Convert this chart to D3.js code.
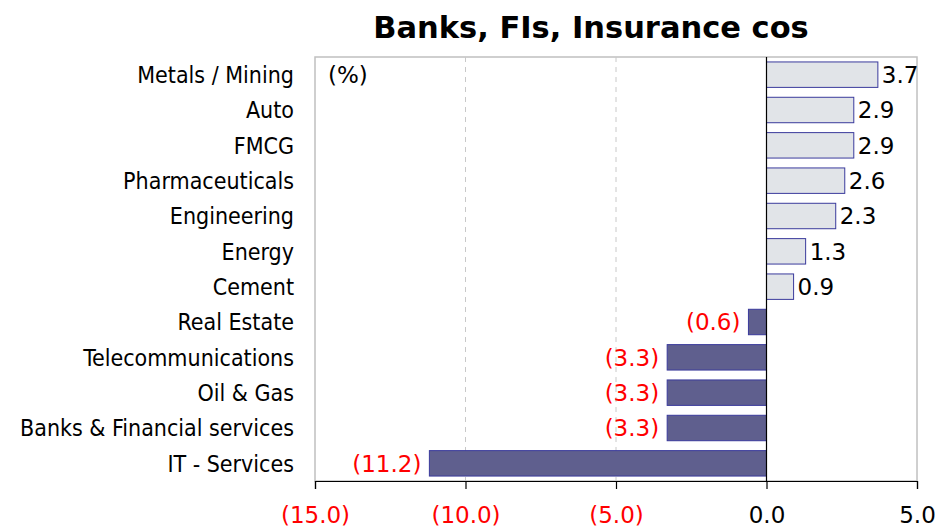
<!DOCTYPE html>
<html>
<head>
<meta charset="utf-8">
<script src="https://cdn.jsdelivr.net/npm/d3@7"></script>
<style>
  body { margin: 0; background: #fff; }
  text { font-family: "DejaVu Sans", sans-serif; }
</style>
</head>
<body>
<div id="chart"></div>
<script>
// chart data
var categories = ["Metals / Mining", "Auto", "FMCG", "Pharmaceuticals", "Engineering", "Energy",
  "Cement", "Real Estate", "Telecommunications", "Oil & Gas", "Banks & Financial services", "IT - Services"];
var values = [3.7, 2.9, 2.9, 2.6, 2.3, 1.3, 0.9, -0.6, -3.3, -3.3, -3.3, -11.2];
var xTicks = [-15, -10, -5, 0, 5];
var title = "Banks, FIs, Insurance cos";

var svgWidth = 951;
var svgHeight = 530;

var margin = { top: 57, right: 34, bottom: 49, left: 315 };
var width = svgWidth - margin.left - margin.right;
var height = svgHeight - margin.top - margin.bottom;

var fmt = function(v) {
  var s = Math.abs(v).toFixed(1);
  return v < 0 ? "(" + s + ")" : s;
};

var svg = d3.select("#chart")
  .append("svg")
  .attr("width", svgWidth)
  .attr("height", svgHeight);

var chartGroup = svg.append("g")
  .attr("transform", `translate(${margin.left}, ${margin.top})`);

var xScale = d3.scaleLinear()
  .domain([-15, 5])
  .range([0, width]);

var yScale = d3.scaleBand()
  .domain(categories)
  .range([0, height])
  .paddingInner(0.28)
  .paddingOuter(0.14);

// frame
chartGroup.append("rect")
  .attr("x", 0).attr("y", 0)
  .attr("width", width).attr("height", height)
  .attr("fill", "none")
  .attr("stroke", "#c0c0c0")
  .attr("stroke-width", 1.5);

// dashed gridlines
chartGroup.selectAll(".grid")
  .data(xTicks.filter(d => d > -15 && d < 0))
  .enter()
  .append("line")
  .attr("x1", d => xScale(d)).attr("x2", d => xScale(d))
  .attr("y1", 0).attr("y2", height)
  .attr("stroke", "#c8c8c8")
  .attr("stroke-dasharray", "5,5");

// bars
chartGroup.selectAll(".bar")
  .data(values)
  .enter()
  .append("rect")
  .attr("x", d => xScale(Math.min(0, d)))
  .attr("y", (d, i) => yScale(categories[i]))
  .attr("width", d => Math.abs(xScale(d) - xScale(0)))
  .attr("height", yScale.bandwidth())
  .attr("fill", d => d < 0 ? "#5f5f8e" : "#e1e4e8")
  .attr("stroke", "#3a3a9c")
  .attr("stroke-width", 1);

// zero line
chartGroup.append("line")
  .attr("x1", xScale(0)).attr("x2", xScale(0))
  .attr("y1", 0).attr("y2", height)
  .attr("stroke", "#000")
  .attr("stroke-width", 1.2);

// value labels
chartGroup.selectAll(".val")
  .data(values)
  .enter()
  .append("text")
  .attr("x", d => d < 0 ? xScale(d) - 8 : xScale(d) + 4)
  .attr("y", (d, i) => yScale(categories[i]) + yScale.bandwidth() / 2)
  .attr("dy", "0.36em")
  .attr("text-anchor", d => d < 0 ? "end" : "start")
  .attr("font-size", "23px")
  .attr("fill", d => d < 0 ? "#ff0000" : "#000")
  .text(fmt);

// category labels
chartGroup.selectAll(".cat")
  .data(categories)
  .enter()
  .append("text")
  .attr("x", -21)
  .attr("y", d => yScale(d) + yScale.bandwidth() / 2)
  .attr("dy", "0.36em")
  .attr("text-anchor", "end")
  .style("font-family", "'DejaVu Sans Condensed', 'DejaVu Sans', sans-serif")
  .attr("font-size", "23px")
  .attr("fill", "#000")
  .text(d => d);

// bottom axis
var bottomAxis = d3.axisBottom(xScale)
  .tickValues(xTicks)
  .tickSize(8)
  .tickFormat(fmt);

var axisG = chartGroup.append("g")
  .attr("transform", `translate(0, ${height})`)
  .call(bottomAxis);

axisG.select(".domain").attr("stroke", "#000").attr("stroke-width", 1.2);
axisG.selectAll(".tick line").attr("stroke", "#000").attr("stroke-width", 1.2);
axisG.selectAll(".tick text")
  .attr("y", 42)
  .attr("dy", "0")
  .attr("font-size", "23px")
  .attr("fill", d => d < 0 ? "#ff0000" : "#000");

// unit label
chartGroup.append("text")
  .attr("x", 13)
  .attr("y", 26)
  .attr("font-size", "23px")
  .text("(%)");

// title
svg.append("text")
  .attr("x", 591)
  .attr("y", 38)
  .attr("text-anchor", "middle")
  .attr("font-size", "30.5px")
  .attr("font-weight", "bold")
  .text(title);
</script>
</body>
</html>
